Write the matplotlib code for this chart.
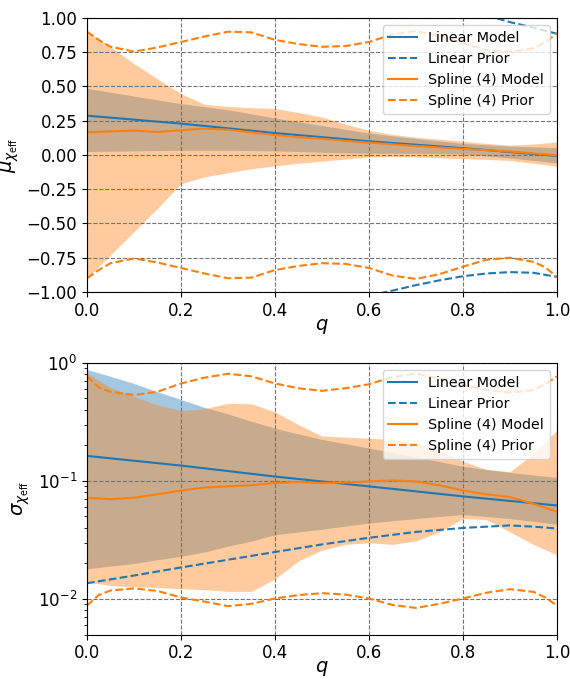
import matplotlib
matplotlib.use("Agg")
import matplotlib.pyplot as plt
from matplotlib.lines import Line2D

# ── Data ──────────────────────────────────────────────────────────────────
q = [0.0, 0.05, 0.1, 0.15, 0.2, 0.25, 0.3, 0.35, 0.4, 0.45, 0.5,
     0.55, 0.6, 0.65, 0.7, 0.75, 0.8, 0.85, 0.9, 0.95, 1.0]
q_fine = [0.0, 0.025, 0.05, 0.1, 0.15, 0.2, 0.25, 0.3, 0.35, 0.4, 0.45, 0.5,
          0.55, 0.6, 0.65, 0.7, 0.75, 0.8, 0.85, 0.9, 0.95, 0.975, 1.0]
q_lin = [0.0, 0.2, 0.4, 0.6, 0.8, 1.0]
q_band = [0.0, 0.1, 0.2, 0.3, 0.4, 0.5, 0.6, 0.7, 0.8, 0.9, 1.0]

# top panel: mu_chi_eff
mu_lin_mean = [0.287, 0.229, 0.160, 0.100, 0.050, -0.007]
mu_lin_hi = [0.486, 0.43, 0.375, 0.33, 0.27, 0.215, 0.16, 0.12, 0.085, 0.065, 0.054]
mu_lin_lo = [0.025, 0.03, 0.034, 0.034, 0.03, 0.02, 0.012, 0.012, 0.008, -0.022, -0.058]

q_lin_prior_hi = [0.85, 0.9, 0.95, 1.0]
mu_lin_prior_hi = [1.02, 0.97, 0.93, 0.885]
q_lin_prior_lo = [0.6, 0.65, 0.7, 0.75, 0.8, 0.85, 0.9, 0.95, 1.0]
mu_lin_prior_lo = [-1.028, -0.99, -0.95, -0.915, -0.885, -0.865, -0.855, -0.86, -0.89]

mu_spl_mean = [0.166, 0.172, 0.178, 0.168, 0.18, 0.193, 0.185, 0.165, 0.145, 0.13, 0.118,
               0.103, 0.09, 0.078, 0.066, 0.055, 0.045, 0.035, 0.025, 0.012, -0.003]
mu_spl_hi = [0.90, 0.79, 0.667, 0.555, 0.448, 0.37, 0.355, 0.345, 0.339, 0.31, 0.277,
             0.225, 0.18, 0.15, 0.13, 0.115, 0.10, 0.085, 0.071, 0.08, 0.095]
mu_spl_lo = [-0.90, -0.73, -0.56, -0.39, -0.21, -0.16, -0.13, -0.10, -0.08, -0.06, -0.045,
             -0.03, -0.015, -0.012, -0.015, -0.02, -0.026, -0.032, -0.04, -0.06, -0.083]

mu_spl_prior_hi = [0.90, 0.84, 0.79, 0.755, 0.785, 0.825, 0.865, 0.90, 0.895, 0.84, 0.81, 0.79,
                   0.795, 0.825, 0.88, 0.905, 0.87, 0.815, 0.765, 0.75, 0.78, 0.82, 0.89]
mu_spl_prior_lo = [-0.90, -0.84, -0.79, -0.755, -0.785, -0.825, -0.865, -0.90, -0.895, -0.84, -0.81, -0.79,
                   -0.795, -0.825, -0.88, -0.905, -0.87, -0.815, -0.765, -0.75, -0.78, -0.82, -0.89]

# bottom panel: sigma_chi_eff
sig_lin_mean = [0.163, 0.135, 0.109, 0.090, 0.074, 0.062]
q_lin_band = [0.0, 0.05, 0.1, 0.15, 0.2, 0.25, 0.3, 0.35, 0.4, 0.45, 0.5, 0.6, 0.7, 0.8, 0.9, 1.0]
sig_lin_hi = [0.88, 0.77, 0.67, 0.57, 0.49, 0.42, 0.37, 0.32, 0.28, 0.25, 0.225,
              0.19, 0.16, 0.133, 0.118, 0.107]
sig_lin_lo = [0.018, 0.019, 0.020, 0.0215, 0.023, 0.025, 0.028, 0.031, 0.035, 0.037, 0.039,
              0.044, 0.048, 0.052, 0.048, 0.043]
q_lin_prior = [0.0, 0.1, 0.2, 0.3, 0.4, 0.5, 0.6, 0.7, 0.8, 0.85, 0.9, 0.95, 1.0]
sig_lin_prior = [0.0136, 0.0158, 0.0185, 0.0215, 0.025, 0.029, 0.033, 0.037, 0.040, 0.041,
                 0.042, 0.041, 0.0396]

sig_spl_mean = [0.072, 0.070, 0.072, 0.077, 0.083, 0.088, 0.090, 0.092, 0.096, 0.098, 0.096,
                0.097, 0.099, 0.101, 0.099, 0.092, 0.083, 0.077, 0.073, 0.064, 0.055]
sig_spl_hi = [0.82, 0.62, 0.52, 0.44, 0.395, 0.41, 0.455, 0.45, 0.385, 0.30, 0.24,
              0.235, 0.23, 0.225, 0.21, 0.18, 0.147, 0.125, 0.12, 0.17, 0.27]
sig_spl_lo = [0.0139, 0.013, 0.0127, 0.0125, 0.0122, 0.012, 0.0116, 0.0116, 0.0148, 0.021, 0.026,
              0.029, 0.030, 0.029, 0.031, 0.037, 0.048, 0.047, 0.037, 0.029, 0.0236]

sig_spl_prior_hi = [0.77, 0.62, 0.57, 0.535, 0.57, 0.67, 0.75, 0.81, 0.77, 0.67, 0.61, 0.58,
                    0.61, 0.66, 0.76, 0.81, 0.74, 0.65, 0.59, 0.56, 0.59, 0.66, 0.77]
sig_spl_prior_lo = [0.0088, 0.0108, 0.0118, 0.0123, 0.0117, 0.0103, 0.0095, 0.0087, 0.0091, 0.0101,
                    0.0108, 0.0112, 0.0109, 0.0101, 0.0089, 0.0084, 0.0091, 0.0101, 0.0113, 0.0121,
                    0.0115, 0.0103, 0.0088]

BLUE = "#1f77b4"
ORANGE = "#ff7f0e"

fig = plt.figure(figsize=(5.7, 6.79), dpi=100)
ax1 = fig.add_axes([0.1526, 0.570, 0.8245, 0.4035])
ax2 = fig.add_axes([0.1526, 0.0655, 0.8245, 0.4000])

# ── Top: mean ────────────────────────────────────────────────────────────
ax1.fill_between(q_band, mu_lin_lo, mu_lin_hi, color=BLUE, alpha=0.4, lw=0)
ax1.fill_between(q, mu_spl_lo, mu_spl_hi, color=ORANGE, alpha=0.4, lw=0)
ax1.plot(q_lin, mu_lin_mean, color=BLUE, lw=1.5)
ax1.plot(q_lin_prior_hi, mu_lin_prior_hi, color=BLUE, lw=1.5, ls="--")
ax1.plot(q_lin_prior_lo, mu_lin_prior_lo, color=BLUE, lw=1.5, ls="--")
ax1.plot(q, mu_spl_mean, color=ORANGE, lw=1.5)
ax1.plot(q_fine, mu_spl_prior_hi, color=ORANGE, lw=1.5, ls="--")
ax1.plot(q_fine, mu_spl_prior_lo, color=ORANGE, lw=1.5, ls="--")
ax1.set_xlim(0, 1)
ax1.set_ylim(-1, 1)
ax1.set_yticks([-1, -0.75, -0.5, -0.25, 0, 0.25, 0.5, 0.75, 1.0])
ax1.set_ylabel(r"$\mu_{\chi_{\rm eff}}$", fontsize=14)
ax1.set_xlabel(r"$q$", fontsize=14, labelpad=-2)

# ── Bottom: width ────────────────────────────────────────────────────────
ax2.fill_between(q_lin_band, sig_lin_lo, sig_lin_hi, color=BLUE, alpha=0.4, lw=0)
ax2.fill_between(q, sig_spl_lo, sig_spl_hi, color=ORANGE, alpha=0.4, lw=0)
ax2.plot(q_lin, sig_lin_mean, color=BLUE, lw=1.5)
ax2.plot(q_lin_prior, sig_lin_prior, color=BLUE, lw=1.5, ls="--")
ax2.plot(q, sig_spl_mean, color=ORANGE, lw=1.5)
ax2.plot(q_fine, sig_spl_prior_hi, color=ORANGE, lw=1.5, ls="--")
ax2.plot(q_fine, sig_spl_prior_lo, color=ORANGE, lw=1.5, ls="--")
ax2.set_yscale("log")
ax2.set_xlim(0, 1)
ax2.set_ylim(0.005, 1)
ax2.set_ylabel(r"$\sigma_{\chi_{\rm eff}}$", fontsize=14)
ax2.set_xlabel(r"$q$", fontsize=14, labelpad=-2)

handles = [Line2D([], [], color=BLUE, lw=1.5),
           Line2D([], [], color=BLUE, lw=1.5, ls="--"),
           Line2D([], [], color=ORANGE, lw=1.5),
           Line2D([], [], color=ORANGE, lw=1.5, ls="--")]
labels = ["Linear Model", "Linear Prior", "Spline (4) Model", "Spline (4) Prior"]

for ax in (ax1, ax2):
    ax.set_xticks([0, 0.2, 0.4, 0.6, 0.8, 1.0])
    ax.grid(True, which="major", ls="--", color="0.45", lw=0.8)
    ax.tick_params(labelsize=12)
    ax.legend(handles, labels, loc="upper right", fontsize=10.3)

fig.savefig("out.png", dpi=100)
